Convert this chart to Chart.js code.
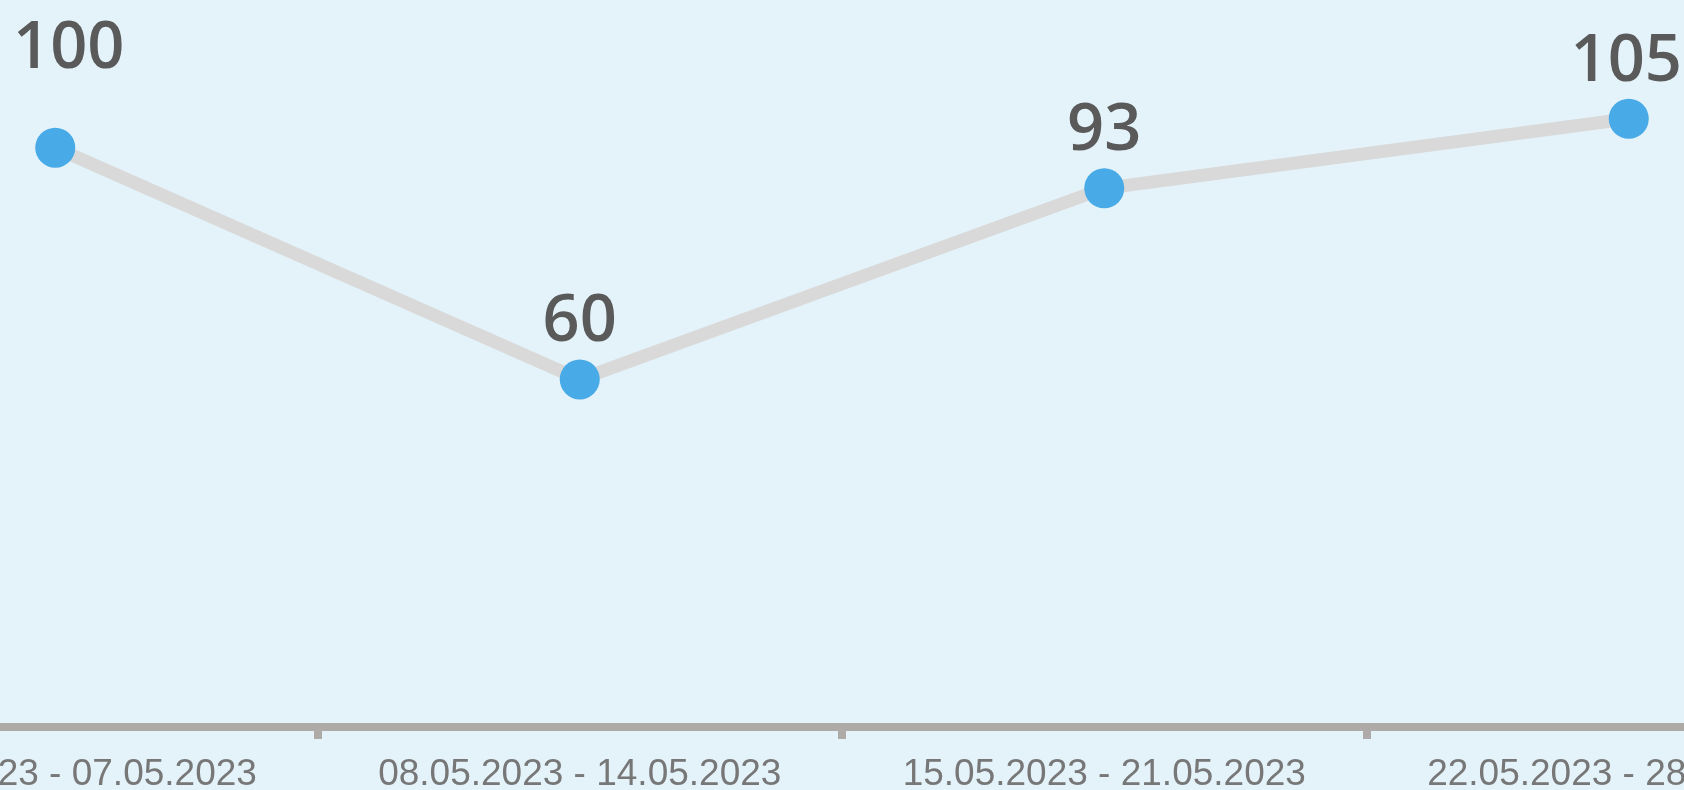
<!DOCTYPE html>
<html>
<head>
<meta charset="utf-8">
<script src="https://cdn.jsdelivr.net/npm/chart.js@4.4.0/dist/chart.umd.min.js"></script>
<style>
  html, body { margin: 0; padding: 0; width: 1684px; height: 790px; overflow: hidden; background: #e4f3fa; }
  #wrap { position: absolute; left: -207px; top: 0; width: 2098px; height: 790px; }
</style>
</head>
<body>
<div id="wrap"><canvas id="chart"></canvas></div>
<script>
// Daten
const weeks = ['01.05.2023 - 07.05.2023', '08.05.2023 - 14.05.2023', '15.05.2023 - 21.05.2023', '22.05.2023 - 28.05.2023'];
const values = [100, 60, 93, 105];

const VIEW_LEFT = 207;   // wie weit der Canvas links abgeschnitten ist
const VIEW_WIDTH = 1684;

// Wertebeschriftung über den Punkten, am sichtbaren Rand eingerückt
const pointLabels = {
    id: 'pointLabels',
    afterDatasetsDraw(chart) {
        const ctx = chart.ctx;
        const meta = chart.getDatasetMeta(0);
        ctx.save();
        ctx.font = "600 65px 'Open Sans'";
        ctx.fillStyle = '#5a5a5a';
        ctx.textAlign = 'center';
        ctx.textBaseline = 'alphabetic';
        meta.data.forEach((pt, i) => {
            const txt = String(values[i]);
            const half = ctx.measureText(txt).width / 2;
            let x = pt.x;
            let y = pt.y - 38;
            const minX = VIEW_LEFT + 13 + half;
            const maxX = VIEW_LEFT + VIEW_WIDTH - 2 - half;
            if (x < minX) { x = minX; y -= 42; }
            else if (x > maxX) { x = maxX; }
            ctx.fillText(txt, x, y);
        });
        ctx.restore();
    }
};

new Chart(document.getElementById('chart'), {
    type: 'line',
    data: {
        labels: weeks,
        datasets: [{
            data: values,
            borderColor: '#d9d9d9',
            borderWidth: 13,
            pointRadius: 20,
            pointHoverRadius: 20,
            pointBackgroundColor: '#48aae6',
            pointBorderWidth: 0,
            tension: 0,
            clip: false
        }]
    },
    options: {
        responsive: true,
        maintainAspectRatio: false,
        animation: false,
        layout: { padding: 0, autoPadding: false },
        plugins: {
            legend: { display: false },
            tooltip: { enabled: false }
        },
        scales: {
            x: {
                offset: true,
                afterFit(scale) { scale.height = 63; },
                grid: {
                    offset: true,
                    drawOnChartArea: false,
                    drawTicks: true,
                    tickLength: 12,
                    color: '#aeaaa8',
                    lineWidth: 8
                },
                border: { display: true, color: '#aeaaa8', width: 8 },
                ticks: {
                    color: '#777777',
                    font: { family: "'Liberation Sans', Arial, sans-serif", size: 37 },
                    padding: 14,
                    maxRotation: 0,
                    autoSkip: false
                }
            },
            y: {
                display: false,
                min: 0,
                max: 125.5
            }
        }
    },
    plugins: [pointLabels]
});
</script>
</body>
</html>
